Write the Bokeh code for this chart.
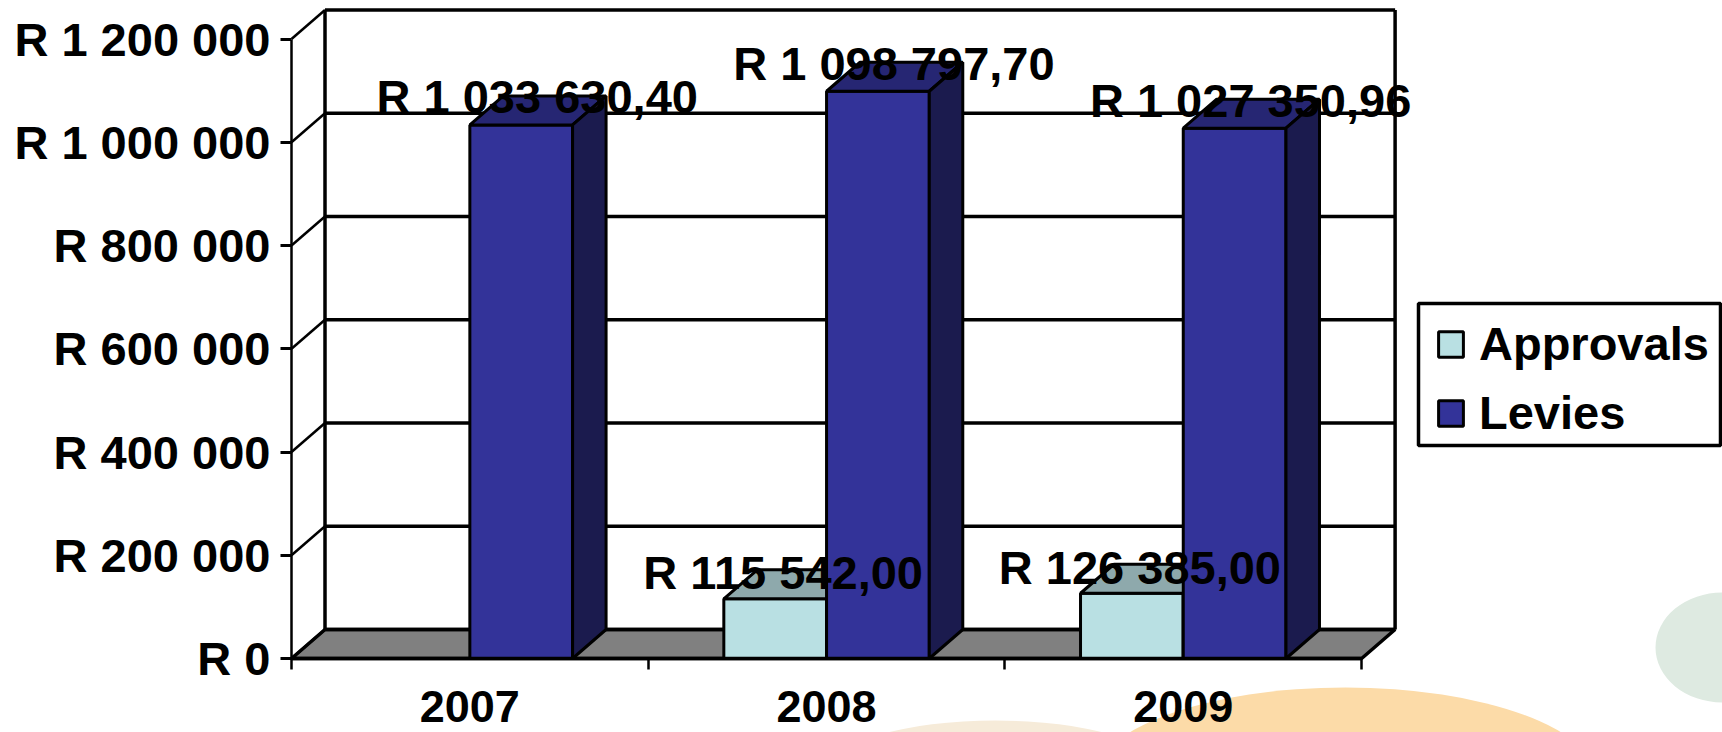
from bokeh.embed import file_html
from bokeh.resources import INLINE
from bokeh.plotting import figure
from bokeh.models import FixedTicker, Range1d, Legend, LegendItem

years = ["2007", "2008", "2009"]
approvals = [0, 115542.00, 126385.00]
levies = [1033630.40, 1098797.70, 1027350.96]
approval_labels = ["", "R 115 542,00", "R 126 385,00"]
levy_labels = ["R 1 033 630,40", "R 1 098 797,70", "R 1 027 350,96"]
y_ticks = [0, 200000, 400000, 600000, 800000, 1000000, 1200000]
y_tick_labels = ["R 0", "R 200 000", "R 400 000", "R 600 000", "R 800 000", "R 1 000 000", "R 1 200 000"]

FONT = "Liberation Sans"
W, H = 1722, 732
# page-pixel geometry of the plot box
X0, Y0 = 291.0, 658.0
PX_PER_CAT = 356.7
PX_PER_UNIT = 103.25 / 200000
DX = 33.5 / PX_PER_CAT      # depth in x data units
DY = 29.0 / PX_PER_UNIT     # depth in y data units
BAR = 0.288                 # bar width in categories


def xd(px):
    return (px - X0) / PX_PER_CAT


def yd(py):
    return (Y0 - py) / PX_PER_UNIT


p = figure(width=W, height=H, output_backend="svg", toolbar_location=None,
           x_range=Range1d(xd(0), xd(W)), y_range=Range1d(yd(H), yd(0)),
           min_border=0, outline_line_color=None, background_fill_color="white",
           border_fill_color="white")
p.grid.visible = False

# faint page decoration behind the chart
p.ellipse(x=[xd(1345)], y=[yd(780)], width=[504 / PX_PER_CAT], height=[186 / PX_PER_UNIT],
          fill_color="#fcdba8", line_color=None)
p.ellipse(x=[xd(995)], y=[yd(770)], width=[332 / PX_PER_CAT], height=[100 / PX_PER_UNIT],
          fill_color="#f6ebd9", line_color=None)
p.ellipse(x=[xd(1722)], y=[yd(647)], width=[134 / PX_PER_CAT], height=[110 / PX_PER_UNIT],
          fill_color="#deeae1", line_color=None)

n = len(years)
BLACK = "#000000"

# floor
p.patch([0, n, n + DX, DX], [0, 0, DY, DY], fill_color="#808080", line_color=BLACK, line_width=3.5)

# walls and gridlines
p.segment(x0=[DX] * len(y_ticks), y0=[t + DY for t in y_ticks],
          x1=[n + DX] * len(y_ticks), y1=[t + DY for t in y_ticks], line_color=BLACK, line_width=3.5)
p.segment(x0=[0] * len(y_ticks), y0=y_ticks,
          x1=[DX] * len(y_ticks), y1=[t + DY for t in y_ticks], line_color=BLACK, line_width=2.5)
p.segment(x0=[DX, n + DX], y0=[DY, DY], x1=[DX, n + DX], y1=[y_ticks[-1] + DY] * 2,
          line_color=BLACK, line_width=3.5)


def bars(vals, offset, front, top, side):
    keep = [i for i, v in enumerate(vals) if v > 0]
    lefts = [i + offset for i in keep]
    rights = [l + BAR for l in lefts]
    heights = [vals[i] for i in keep]
    r = p.quad(left=lefts, right=rights, bottom=0, top=heights,
               fill_color=front, line_color=BLACK, line_width=3)
    p.patches([[l, l + DX, rr + DX, rr] for l, rr in zip(lefts, rights)],
              [[h, h + DY, h + DY, h] for h in heights],
              fill_color=top, line_color=BLACK, line_width=3)
    p.patches([[rr, rr + DX, rr + DX, rr] for rr in rights],
              [[0, DY, h + DY, h] for h in heights],
              fill_color=side, line_color=BLACK, line_width=3)
    return r


r_a = bars(approvals, 0.5 - BAR, "#b9e0e3", "#8ea9ac", "#6f8f92")
r_l = bars(levies, 0.5, "#333399", "#262673", "#1b1b4e")

# data labels
for i in range(n):
    if approvals[i] > 0:
        p.text(x=[i + 0.5 - BAR / 2], y=[approvals[i]], text=[approval_labels[i]],
               x_offset=8, y_offset=-26, text_align="center", text_baseline="alphabetic",
               text_font_style="bold", text_font_size="47px", text_color=BLACK,
               text_font={"value": FONT})
    p.text(x=[i + 0.5 + BAR / 2], y=[levies[i]], text=[levy_labels[i]],
           x_offset=16, y_offset=-28, text_align="center", text_baseline="alphabetic",
           text_font_style="bold", text_font_size="47px", text_color=BLACK,
           text_font={"value": FONT})

# axes
xa = p.xaxis[0]
xa.fixed_location = 0
xa.bounds = (0, n)
xa.ticker = FixedTicker(ticks=[i + 0.5 for i in range(n)], minor_ticks=list(range(n + 1)))
xa.major_label_overrides = {i + 0.5: years[i] for i in range(n)}
xa.major_tick_out = 0
xa.major_tick_in = 0
xa.minor_tick_out = 11
xa.minor_tick_in = 0
xa.minor_tick_line_width = 2.5
xa.minor_tick_line_color = BLACK
xa.axis_line_width = 3.5
xa.axis_line_color = BLACK
xa.major_label_standoff = 21
xa.major_label_text_font = FONT
xa.major_label_text_font_style = "bold"
xa.major_label_text_font_size = "45px"
xa.major_label_text_color = BLACK

ya = p.yaxis[0]
ya.fixed_location = 0
ya.bounds = (y_ticks[0], y_ticks[-1])
ya.ticker = FixedTicker(ticks=y_ticks)
ya.major_label_overrides = dict(zip(y_ticks, y_tick_labels))
ya.major_tick_out = 11
ya.major_tick_in = 0
ya.major_tick_line_width = 3
ya.major_tick_line_color = BLACK
ya.minor_tick_line_color = None
ya.axis_line_width = 2.5
ya.axis_line_color = BLACK
ya.major_label_standoff = 10
ya.major_label_text_font = FONT
ya.major_label_text_font_style = "bold"
ya.major_label_text_font_size = "47px"
ya.major_label_text_color = BLACK

# legend box, then a borderless legend set inside it
p.quad(left=[xd(1418)], right=[xd(1720)], top=[yd(303)], bottom=[yd(445)],
       fill_color="white", line_color=BLACK, line_width=3.5, level="overlay")
legend = Legend(items=[LegendItem(label="Approvals", renderers=[r_a]),
                       LegendItem(label="Levies", renderers=[r_l])],
                location=(1435, H - 440), margin=0, padding=0, spacing=14,
                glyph_width=31, glyph_height=32, label_standoff=13,
                label_text_font=FONT, label_text_font_style="bold",
                label_text_font_size="47px", label_text_color=BLACK,
                border_line_color=None, background_fill_alpha=0.0)
p.add_layout(legend, "center")

open("out.html", "w").write(file_html(p, INLINE))
